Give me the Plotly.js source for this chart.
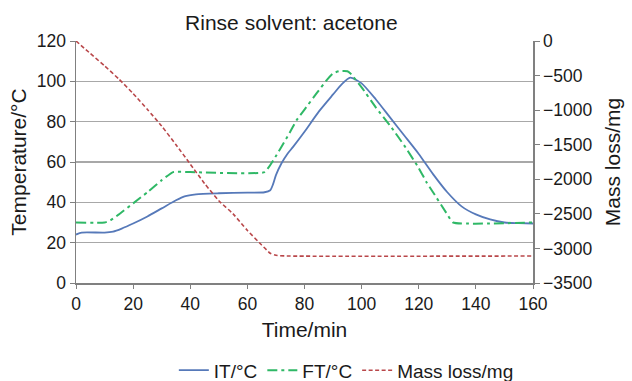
<!DOCTYPE html>
<html><head><meta charset="utf-8">
<script src="https://cdn.plot.ly/plotly-3.0.1.min.js"></script>
<style>html,body{margin:0;padding:0;background:#fff;}#chart{width:632px;height:381px;}</style>
</head><body><div id="chart"></div>
<script>
const itTime = [0,2,10,13,16,20,25,30,35,38,42,50,60,66,68,69,70,72,74,76,80,85,90,93,96,100,105,110,115,120,125,130,135,140,145,150,155,160];
const itTemp = [24,25,25,25.5,27,29.5,33,37,41,43,44,44.5,44.8,45,46,49,53.5,59.5,64,67.5,75,85,93.5,98.5,101.8,99,91,82,73,64,54,45,38,34,31.5,30,29.7,29.5];
const ftTime = [0,10,12,15,20,25,30,34,40,66,70,75,77.2,80,84.2,88,90,92,95,96,100,105,110,115,120,122.7,125,130,132,160];
const ftTemp = [30,30,31,34,39.5,45,51,55,55,55,63,75,80.7,86,94,101,104,105,105,104,97,87,78,68,57,50,45,34,30,30];
const mlTime = [0,5,10,15,20,25,30,35,40,45,50,55,60,65,68,70,75,160];
const mlMass = [0,-180,-360,-550,-760,-990,-1230,-1500,-1780,-2060,-2310,-2500,-2740,-2950,-3070,-3100,-3110,-3110];

const fam = 'Liberation Sans, Arial, Helvetica, sans-serif';
const traces = [
 {x:itTime, y:itTemp, name:'IT/°C', mode:'lines', line:{color:'#5679b9', width:1.8, shape:'spline', smoothing:0.6}},
 {x:ftTime, y:ftTemp, name:'FT/°C', mode:'lines', line:{color:'#2fb866', width:2, dash:'10px,4px,3px,4px', shape:'spline', smoothing:0.4}},
 {x:mlTime, y:mlMass, name:'Mass loss/mg', mode:'lines', yaxis:'y2', line:{color:'#b9474a', width:1.6, dash:'4px,2.5px', shape:'spline', smoothing:0.5}}
];
const axLine = '#808080';
const layout = {
 width:632, height:381,
 margin:{l:76, r:99, t:41, b:98},
 paper_bgcolor:'#fff', plot_bgcolor:'#fff',
 font:{family:fam, size:17.5, color:'#1a1a1a'},
 title:{text:'Rinse solvent: acetone', xref:'container', x:0.461, xanchor:'center', yref:'container', y:0.94, yanchor:'middle', font:{size:21}},
 showlegend:true,
 legend:{orientation:'h', xref:'container', x:0.548, xanchor:'center', yref:'container', y:0.028, yanchor:'middle', font:{size:19}, itemwidth:30, tracegroupgap:0},
 xaxis:{range:[0,160], dtick:20, showgrid:false, zeroline:false, showline:true, linecolor:axLine, linewidth:1.5,
   ticks:'outside', ticklen:4, tickcolor:axLine, tickfont:{size:17.5},
   title:{text:'Time/min', font:{size:21}, standoff:10}},
 yaxis:{range:[0,120], dtick:20, showgrid:true, gridcolor:'#a8a8a8', gridwidth:1.3, zeroline:false, showline:true,
   linecolor:axLine, linewidth:1.5, ticks:'outside', ticklen:5, tickcolor:axLine, tickfont:{size:17.5},
   title:{text:'Temperature/°C', font:{size:21}, standoff:4}},
 yaxis2:{range:[-3500,0], dtick:500, overlaying:'y', side:'right', showgrid:false, zeroline:false, showline:true,
   linecolor:axLine, linewidth:1.5, ticks:'outside', ticklen:5, tickcolor:axLine, tickfont:{size:17.5},
   tickformat:'d',
   title:{text:'Mass loss/mg', font:{size:21}, standoff:14}}
};
Plotly.newPlot('chart', traces, layout, {displayModeBar:false, staticPlot:true});
</script></body></html>
